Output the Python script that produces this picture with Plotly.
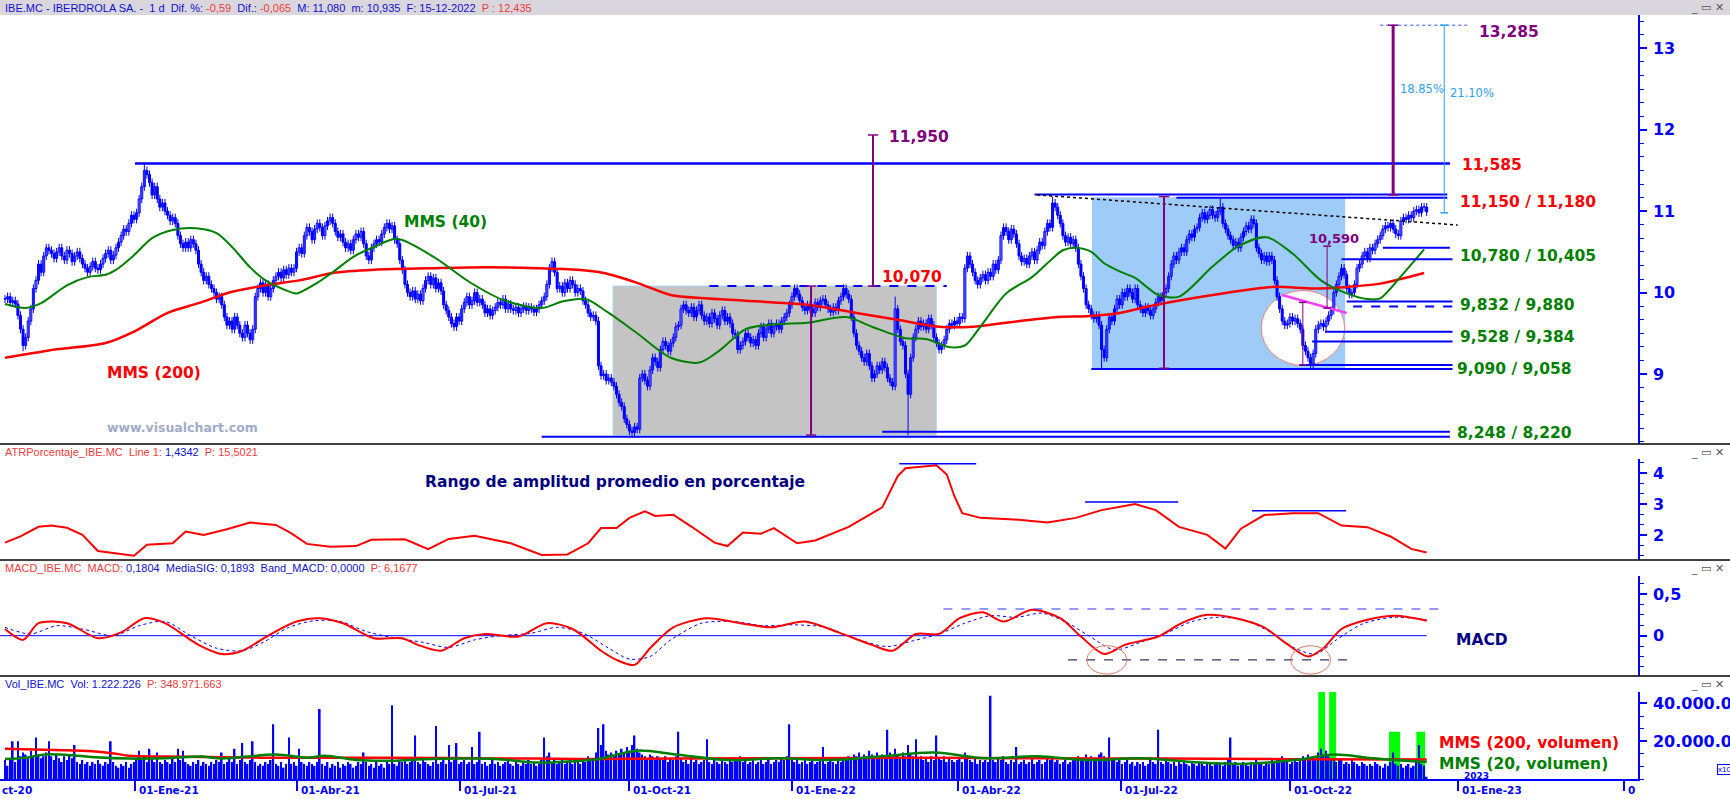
import plotly.graph_objects as go

W, H = 1730, 799

# ---------------- price data (daily closes) ----------------
close_a = [
    9.92, 9.95, 9.88, 9.90, 9.86, 9.72, 9.55, 9.35, 9.45, 9.65,
    9.80, 10.05, 10.15, 10.35, 10.25, 10.45, 10.55, 10.52,
    10.48, 10.42, 10.50, 10.55, 10.45, 10.40, 10.52, 10.48, 10.38, 10.45, 10.50, 10.42,
    10.35, 10.30, 10.25, 10.32, 10.38, 10.30, 10.28, 10.35,
    10.42, 10.48, 10.52, 10.40, 10.46, 10.55,
    10.62, 10.70, 10.78, 10.75, 10.85, 10.95, 10.90, 10.98,
    11.15, 11.30, 11.50, 11.45, 11.35, 11.20, 11.30,
    11.15, 11.05, 11.10, 11.00, 10.95, 10.88, 10.92, 10.85,
    10.70, 10.60, 10.55, 10.62, 10.55, 10.65, 10.60, 10.52,
    10.35, 10.25, 10.15, 10.20, 10.10, 10.05,
    10.00, 9.92, 9.95, 9.85, 9.70, 9.60, 9.65, 9.55,
    9.70, 9.60, 9.50, 9.45, 9.60, 9.50, 9.42, 9.55, 9.95,
    10.05, 10.12, 10.00, 10.10, 9.95, 10.05, 10.15,
    10.20, 10.25, 10.18, 10.28, 10.22, 10.30, 10.25, 10.30,
    10.50, 10.55, 10.48,
    10.70, 10.80, 10.75, 10.65, 10.78, 10.85, 10.80, 10.70, 10.82, 10.88, 10.92, 10.85,
    10.75, 10.68, 10.72, 10.62, 10.55, 10.60, 10.52, 10.65,
    10.72, 10.68, 10.75, 10.60, 10.45, 10.40,
    10.55, 10.60, 10.65, 10.62, 10.72, 10.80, 10.85, 10.78, 10.82,
    10.65, 10.60, 10.40, 10.28,
    10.10, 10.00, 9.95, 10.02, 9.92, 9.98, 9.90, 10.05,
    10.15, 10.20, 10.10, 10.18, 10.05, 10.12, 10.02,
    9.85, 9.78, 9.70, 9.62, 9.58, 9.70, 9.65,
    9.80, 9.88, 9.95, 9.85, 9.90, 10.00, 9.88, 9.92, 9.85,
]
close_b = [
    9.75, 9.80, 9.72, 9.78, 9.82, 9.88, 9.85, 9.92, 9.80, 9.86,
    9.80, 9.78, 9.82, 9.75, 9.80, 9.83, 9.78, 9.82, 9.80, 9.76, 9.80, 9.85,
    9.90, 9.95, 10.10, 10.30, 10.38, 10.25, 10.05, 10.08, 10.00,
    10.12, 10.05, 10.15, 10.10, 10.00, 10.05, 10.02,
    9.90, 9.85, 9.75, 9.70, 9.72, 9.65, 9.10,
    8.98, 9.00, 8.92, 8.95, 8.90, 8.85, 8.75, 8.65, 8.60,
    8.45, 8.38, 8.30, 8.28, 8.35, 8.32, 8.95, 9.00,
    8.92, 8.85, 9.05, 9.20, 9.15, 9.08, 9.30, 9.40,
    9.35, 9.28, 9.38, 9.45, 9.58, 9.60, 9.80, 9.85, 9.78,
    9.75, 9.82, 9.70, 9.78, 9.85, 9.72,
    9.65, 9.70, 9.62, 9.75, 9.68, 9.60, 9.72,
    9.78, 9.65, 9.70, 9.62, 9.50, 9.48, 9.30, 9.35, 9.40,
    9.50, 9.45, 9.38, 9.42, 9.35,
    9.50, 9.58, 9.45, 9.55, 9.62, 9.50, 9.58,
    9.62, 9.55, 9.65, 9.70, 9.75, 9.85, 9.95, 10.05, 9.98, 9.90,
    9.82, 9.78, 9.85, 9.80, 9.75, 9.88, 9.82, 9.90,
    9.92, 9.85, 9.80, 9.76, 9.82, 9.78, 9.90,
    9.95, 10.05, 9.98, 9.92, 9.70, 9.50, 9.35, 9.28,
    9.20, 9.15, 9.25, 9.10, 8.95, 9.00,
    9.10, 9.05, 9.15, 9.08, 8.95, 8.90, 8.85, 9.80,
    9.55, 9.40, 9.35, 9.00, 8.75, 9.20, 9.45, 9.55,
    9.65, 9.58, 9.62, 9.55, 9.68, 9.60,
    9.45, 9.38, 9.30, 9.35, 9.42, 9.55, 9.62, 9.60,
]
close_c = [
    9.65, 9.62, 9.70, 9.68, 10.30, 10.45, 10.35, 10.25,
    10.15, 10.10, 10.18, 10.22, 10.15, 10.25, 10.20,
    10.35, 10.28, 10.40, 10.70, 10.80, 10.75, 10.65, 10.78, 10.72, 10.60,
    10.45, 10.38, 10.42, 10.35, 10.45, 10.50, 10.40, 10.52,
    10.62, 10.58, 10.75, 10.85, 10.80, 11.10, 11.05, 10.95, 10.85,
    10.70, 10.62, 10.68, 10.60, 10.65, 10.55,
    10.35, 10.20, 10.05, 9.85, 9.80, 9.72, 9.68, 9.72, 9.60,
    9.30, 9.20, 9.55, 9.70, 9.65,
    9.80, 9.92, 9.85, 10.00, 9.95, 10.05, 10.00, 9.92, 10.05,
    9.85, 9.80, 9.75, 9.82, 9.78, 9.72, 9.80, 9.88,
    9.95, 9.90, 10.00, 10.05, 10.20, 10.35, 10.45, 10.40, 10.50,
    10.55, 10.50, 10.65, 10.72, 10.68, 10.78, 10.80,
    10.92, 10.98, 10.90, 10.95, 11.02, 10.95, 10.92, 11.00, 11.05,
    10.85, 10.78, 10.70, 10.65, 10.58, 10.62, 10.55, 10.68,
    10.75, 10.82, 10.78, 10.90, 10.85, 10.55, 10.48, 10.40, 10.45,
    10.38, 10.45, 10.40, 10.15, 9.95, 9.80, 9.65, 9.60,
    9.62, 9.70, 9.65, 9.68, 9.62, 9.55, 9.35, 9.28,
    9.20, 9.12, 9.25, 9.55, 9.60, 9.62, 9.58, 9.65, 9.72, 9.78,
    10.00, 10.10, 10.20, 10.30, 10.22, 10.05, 9.98, 10.00, 10.10,
    10.30, 10.35, 10.45, 10.50, 10.42, 10.55, 10.52,
    10.60, 10.65, 10.70, 10.78, 10.82, 10.80, 10.85, 10.78, 10.72, 10.70,
    10.88, 10.92, 10.90, 10.95, 10.92, 11.00, 11.02, 10.98, 11.05, 11.05, 10.99,
]
hi_override_idx = [54, 212, 345, 406, 471, 549]
hi_override_val = [11.585, 10.42, 9.95, 11.18, 11.15, 11.10]
lo_override_idx = [7, 96, 230, 243, 350, 425, 506]
lo_override_val = [9.28, 9.38, 9.05, 8.22, 8.248, 9.058, 9.09]

# moving averages of price
mms200_idx = [0, 17, 39, 50, 63, 75, 88, 101, 114, 127, 143, 167, 187, 206, 222, 232, 245, 258, 271,
              287, 311, 330, 347, 362, 375, 388, 408, 419, 432, 443, 468, 491, 507, 520, 533, 550]
mms200_val = [9.20, 9.29, 9.38, 9.52, 9.75, 9.87, 10.01, 10.09, 10.15, 10.24, 10.28, 10.30, 10.31, 10.30,
              10.28, 10.24, 10.12, 9.97, 9.93, 9.90, 9.85, 9.75, 9.66, 9.58, 9.58, 9.63, 9.70, 9.71, 9.75,
              9.83, 9.97, 10.07, 10.05, 10.07, 10.11, 10.24]
mms40_idx = [0, 8, 14, 24, 32, 39, 43, 50, 57, 65, 74, 82, 88, 95, 101, 108, 113, 121, 127, 135, 143, 152,
             167, 180, 193, 208, 216, 225, 234, 245, 258, 269, 277, 287, 298, 311, 326, 336, 349, 357, 366,
             372, 378, 388, 398, 406, 410, 415, 421, 426, 432, 438, 447, 455, 468, 478, 489, 499, 510, 520,
             528, 533, 541, 550]
mms40_val = [9.86, 9.81, 9.87, 10.09, 10.19, 10.22, 10.28, 10.46, 10.67, 10.77, 10.79, 10.73, 10.56, 10.31,
             10.15, 10.04, 9.99, 10.12, 10.25, 10.44, 10.56, 10.66, 10.42, 10.13, 9.91, 9.81, 9.89, 9.92,
             9.75, 9.50, 9.20, 9.14, 9.29, 9.55, 9.61, 9.63, 9.70, 9.58, 9.44, 9.43, 9.33, 9.35, 9.58, 9.99,
             10.19, 10.42, 10.52, 10.55, 10.50, 10.36, 10.26, 10.18, 9.97, 9.95, 10.32, 10.57, 10.68, 10.48,
             10.15, 9.99, 9.92, 9.93, 10.20, 10.53]

# ATR %
atr_idx = [0, 6, 13, 18, 24, 30, 36, 43, 50, 55, 65, 70, 77, 86, 95, 105, 111, 117, 126, 136, 142, 155,
           164, 172, 182, 188, 196, 208, 218, 226, 231, 237, 242, 248, 252, 259, 266, 275, 280, 286, 293,
           298, 307, 314, 327, 340, 346, 349, 361, 365, 368, 371, 378, 391, 404, 415, 425, 438, 446, 455,
           466, 473, 479, 488, 499, 509, 518, 528, 537, 545, 551]
atr_val = [1.75, 1.95, 2.26, 2.30, 2.23, 2.00, 1.48, 1.40, 1.33, 1.68, 1.73, 2.11, 2.00, 2.18, 2.40, 2.32,
           2.05, 1.71, 1.62, 1.64, 1.84, 1.86, 1.54, 1.87, 1.97, 1.87, 1.73, 1.35, 1.37, 1.73, 2.22, 2.22,
           2.55, 2.76, 2.61, 2.65, 2.27, 1.75, 1.64, 2.08, 2.04, 2.22, 1.73, 1.82, 2.26, 2.89, 3.90, 4.15,
           4.25, 3.95, 3.24, 2.70, 2.55, 2.50, 2.40, 2.55, 2.80, 3.00, 2.80, 2.26, 2.00, 1.56, 2.20, 2.64,
           2.70, 2.70, 2.30, 2.25, 1.95, 1.55, 1.43]

# MACD and signal
macd_idx = [0, 7, 13, 24, 36, 45, 54, 62, 75, 84, 92, 103, 113, 122, 131, 143, 154, 160, 169, 178, 186,
            199, 210, 220, 231, 237, 244, 250, 259, 272, 285, 297, 310, 323, 336, 344, 353, 362, 370, 379,
            387, 398, 409, 417, 426, 434, 447, 456, 466, 477, 488, 496, 505, 511, 518, 528, 539, 551]
macd_val = [0.08, -0.05, 0.15, 0.15, -0.03, 0.04, 0.21, 0.15, -0.11, -0.22, -0.18, 0.02, 0.17, 0.21, 0.15,
            -0.03, -0.03, -0.11, -0.18, -0.03, 0.02, -0.01, 0.15, 0.08, -0.18, -0.29, -0.35, -0.15, 0.10,
            0.21, 0.15, 0.10, 0.17, 0.04, -0.11, -0.18, 0.02, 0.02, 0.21, 0.28, 0.17, 0.31, 0.21, -0.01,
            -0.22, -0.11, -0.01, 0.15, 0.25, 0.21, 0.10, -0.08, -0.25, -0.15, 0.08, 0.19, 0.24, 0.18]
sig_idx = [0, 10, 20, 30, 42, 52, 62, 72, 82, 92, 100, 110, 120, 130, 140, 150, 162, 172, 182, 192, 204,
           214, 224, 234, 242, 250, 258, 270, 282, 294, 306, 318, 330, 342, 352, 362, 372, 382, 392, 402,
           412, 420, 430, 440, 450, 460, 470, 480, 490, 500, 508, 516, 526, 538, 551]
sig_val = [0.10, 0.02, 0.12, 0.08, 0.00, 0.12, 0.17, 0.00, -0.15, -0.18, -0.08, 0.10, 0.18, 0.17, 0.05,
           -0.02, -0.08, -0.14, -0.05, 0.00, 0.03, 0.10, 0.03, -0.15, -0.28, -0.25, -0.05, 0.15, 0.17, 0.12,
           0.13, 0.10, -0.04, -0.13, -0.06, 0.02, 0.15, 0.24, 0.22, 0.27, 0.15, 0.00, -0.17, -0.08, 0.03,
           0.17, 0.22, 0.19, 0.05, -0.15, -0.22, -0.05, 0.14, 0.22, 0.19]

# volume (millions)
volume_m = [
    10, 7, 11, 20, 9, 20, 12, 14, 13, 11, 15, 12, 22, 13, 11, 12, 14, 20, 12, 10,
    13, 11, 9, 12, 10, 13, 11, 18, 9, 8, 10, 8, 9, 7, 9, 8, 10, 8, 7, 9,
    8, 20, 9, 7, 6, 8, 7, 9, 6, 8, 9, 11, 15, 10, 12, 9, 16, 11, 9, 14,
    9, 8, 10, 9, 8, 11, 9, 16, 10, 15, 9, 8, 7, 9, 8, 10, 7, 9, 8, 7,
    9, 8, 10, 9, 14, 8, 9, 11, 9, 16, 8, 10, 19, 9, 8, 10, 20, 9, 7, 8,
    7, 9, 8, 10, 29, 8, 7, 9, 6, 8, 22, 8, 9, 7, 16, 9, 8, 7, 9, 8,
    7, 9, 37, 8, 7, 9, 6, 8, 7, 9, 6, 8, 7, 9, 8, 6, 7, 9, 8, 14,
    9, 7, 8, 6, 9, 7, 8, 6, 9, 8, 39, 8, 7, 10, 9, 11, 8, 9, 10, 23,
    9, 8, 10, 9, 8, 7, 9, 28, 8, 9, 10, 8, 18, 9, 10, 19, 8, 9, 10, 8,
    9, 17, 8, 9, 25, 8, 9, 7, 8, 10, 8, 9, 7, 8, 9, 10, 8, 7, 9, 8,
    7, 9, 8, 10, 8, 9, 7, 8, 10, 22, 12, 14, 9, 10, 8, 9, 11, 8, 9, 10,
    8, 9, 10, 8, 11, 9, 12, 10, 11, 14, 27, 18, 29, 15, 13, 14, 12, 15, 13, 16,
    14, 17, 15, 18, 23, 16, 14, 13, 12, 11, 13, 12, 10, 12, 11, 10, 12, 9, 11, 10,
    12, 25, 11, 9, 10, 8, 11, 9, 10, 8, 9, 10, 21, 9, 8, 10, 9, 8, 10, 9,
    8, 10, 9, 11, 10, 12, 9, 10, 8, 9, 10, 8, 9, 10, 8, 9, 11, 8, 9, 10,
    9, 11, 10, 12, 29, 10, 9, 11, 8, 9, 10, 8, 9, 10, 8, 9, 10, 17, 8, 9,
    10, 9, 8, 10, 9, 11, 10, 12, 11, 13, 12, 14, 11, 13, 12, 15, 13, 12, 14, 11,
    13, 12, 26, 14, 12, 16, 13, 11, 14, 12, 18, 13, 12, 21, 11, 12, 10, 11, 9, 12,
    10, 23, 11, 10, 12, 9, 11, 10, 9, 10, 11, 9, 14, 12, 10, 9, 11, 8, 10, 9,
    10, 9, 44, 10, 9, 11, 10, 12, 9, 8, 10, 9, 17, 8, 9, 10, 8, 9, 11, 8,
    9, 10, 8, 9, 11, 10, 12, 9, 10, 8, 9, 10, 8, 9, 10, 11, 12, 10, 11, 13,
    10, 12, 11, 10, 13, 14, 12, 11, 22, 10, 11, 9, 10, 8, 9, 10, 8, 9, 7, 9,
    8, 9, 7, 8, 10, 9, 8, 26, 9, 8, 10, 9, 8, 9, 7, 10, 8, 9, 8, 7,
    9, 8, 7, 9, 8, 7, 8, 9, 7, 8, 9, 8, 7, 9, 10, 22, 8, 9, 7, 8,
    9, 8, 7, 9, 8, 10, 9, 8, 7, 9, 8, 10, 9, 11, 10, 12, 9, 10, 8, 9,
    10, 9, 11, 12, 10, 13, 11, 12, 10, 14, 16, 13, 15, 12, 11, 10, 9, 11, 10, 8,
    9, 8, 10, 9, 8, 7, 9, 8, 7, 8, 7, 9, 8, 7, 6, 8, 7, 9, 14, 8,
    7, 8, 6, 7, 8, 6, 7, 9, 18, 8, 7, 1.2,
]
vmm200_idx = [0, 19, 34, 43, 48, 63, 99, 146, 206, 230, 260, 300, 350, 400, 450, 500, 551]
vmm200_val = [16.0, 15.4, 14.7, 13.4, 12.3, 11.9, 11.3, 11.3, 10.8, 10.6, 10.9, 11.0, 11.2, 11.0, 10.8, 10.5, 10.3]
vmm20_idx = [0, 8, 16, 28, 35, 48, 63, 76, 84, 105, 117, 124, 136, 150, 162, 176, 190, 206, 218, 230, 245,
             260, 280, 300, 320, 340, 360, 380, 400, 420, 440, 460, 480, 500, 515, 530, 551]
vmm20_val = [10.6, 11.3, 13.0, 12.3, 11.5, 10.8, 11.0, 11.9, 10.8, 13.0, 11.3, 12.3, 10.1, 9.7, 10.4, 10.8,
             10.6, 8.7, 9.2, 10.6, 15.0, 13.0, 10.0, 11.0, 10.0, 12.0, 14.0, 11.0, 12.0, 10.0, 11.0, 9.0,
             8.0, 10.0, 13.0, 11.0, 9.0]
vol_green_x0 = [509.0, 513.2, 536.4, 547.0]
vol_green_x1 = [511.6, 515.9, 540.7, 550.4]
vol_green_top = [46.0, 46.0, 25.0, 25.0]

tick_idx = [50.3, 113.3, 176.2, 242.0, 305.2, 369.5, 432.5, 497.9, 563.1, 627.5]
tick_text = ['01-Ene-21', '01-Abr-21', '01-Jul-21', '01-Oct-21', '01-Ene-22', '01-Abr-22',
             '01-Jul-22', '01-Oct-22', '01-Ene-23', '0']

# ---------------- build ----------------
closes = close_a + close_b + close_c
n = len(closes)
idx = list(range(n))
opens = [closes[0]] + closes[:-1]
highs = [max(o, c) + 0.05 for o, c in zip(opens, closes)]
lows = [min(o, c) - 0.05 for o, c in zip(opens, closes)]
for i, v in zip(hi_override_idx, hi_override_val):
    if i < n:
        highs[i] = max(highs[i], v)
for i, v in zip(lo_override_idx, lo_override_val):
    if i < n:
        lows[i] = min(lows[i], v)

BLUE = '#0000ff'
RED = '#ff0000'
GREEN = '#008000'
PURPLE = '#800080'
NAVY = '#000080'
BIG = 'DejaVu Sans'
SMALL = 'Liberation Sans'

XD = 1638 / W
XR = [-1.94, 632.9]


def PY(y):
    return 1 - y / H


fig = go.Figure()

# candle wicks
wx, wy = [], []
for i in idx:
    wx += [i, i, None]
    wy += [lows[i], highs[i], None]
fig.add_trace(go.Scatter(x=wx, y=wy, mode='lines', xaxis='x', yaxis='y',
                         line=dict(color=BLUE, width=1), hoverinfo='skip'))
# candle bodies (hollow = up, filled = down)
body_base = [min(o, c) for o, c in zip(opens, closes)]
body_h = [max(abs(c - o), 0.006) for o, c in zip(opens, closes)]
body_col = ['#ffffff' if c >= o else BLUE for o, c in zip(opens, closes)]
fig.add_trace(go.Bar(x=idx, y=body_h, base=body_base, width=0.78, xaxis='x', yaxis='y',
                     marker=dict(color=body_col, line=dict(color=BLUE, width=1)), hoverinfo='skip'))

fig.add_trace(go.Scatter(x=mms200_idx, y=mms200_val, mode='lines', xaxis='x', yaxis='y',
                         line=dict(color=RED, width=2.5, shape='spline', smoothing=0.8)))
fig.add_trace(go.Scatter(x=mms40_idx, y=mms40_val, mode='lines', xaxis='x', yaxis='y',
                         line=dict(color=GREEN, width=2, shape='spline', smoothing=0.8)))

fig.add_trace(go.Scatter(x=atr_idx, y=atr_val, mode='lines', xaxis='x2', yaxis='y2',
                         line=dict(color=RED, width=2)))

fig.add_trace(go.Scatter(x=sig_idx, y=sig_val, mode='lines', xaxis='x3', yaxis='y3',
                         line=dict(color=BLUE, width=1, dash='dot', shape='spline', smoothing=0.8)))
fig.add_trace(go.Scatter(x=macd_idx, y=macd_val, mode='lines', xaxis='x3', yaxis='y3',
                         line=dict(color=RED, width=2, shape='spline', smoothing=0.8)))

fig.add_trace(go.Bar(x=idx, y=[v * 1e6 for v in volume_m], width=0.62, xaxis='x4', yaxis='y4',
                     marker=dict(color=BLUE, line=dict(width=0))))
fig.add_trace(go.Scatter(x=vmm200_idx, y=[v * 1e6 for v in vmm200_val], mode='lines', xaxis='x4', yaxis='y4',
                         line=dict(color=RED, width=2.5, shape='spline')))
fig.add_trace(go.Scatter(x=vmm20_idx, y=[v * 1e6 for v in vmm20_val], mode='lines', xaxis='x4', yaxis='y4',
                         line=dict(color=GREEN, width=2.5, shape='spline')))

shapes = []


def seg(x0, y0, x1, y1, color, width=2, dash='solid', xr='x', yr='y', layer='above'):
    shapes.append(dict(type='line', xref=xr, yref=yr, x0=x0, y0=y0, x1=x1, y1=y1, layer=layer,
                       line=dict(color=color, width=width, dash=dash)))


def vmeasure(x, y0, y1, color, width=2, cap=2.0):
    seg(x, y0, x, y1, color, width)
    seg(x - cap, y0, x + cap, y0, color, 1.5)
    seg(x - cap, y1, x + cap, y1, color, 1.5)


# background regions (price)
shapes.append(dict(type='rect', xref='x', yref='y', x0=235.7, x1=360.9, y0=8.25, y1=10.08,
                   fillcolor='#c4c4c4', line=dict(color='#a8cdf0', width=1), layer='below'))
shapes.append(dict(type='rect', xref='x', yref='y', x0=421.3, x1=519.4, y0=9.05, y1=11.17,
                   fillcolor='#9ecbf7', line=dict(width=0), layer='below'))
shapes.append(dict(type='circle', xref='x', yref='y', x0=486.9, x1=519.2, y0=9.105, y1=10.025,
                   fillcolor='#ffffff', line=dict(color='#f08878', width=1), layer='below'))

# horizontal levels
seg(50.4, 11.585, 560, 11.585, BLUE, 2.5)
seg(399, 11.205, 559, 11.205, BLUE, 2)
seg(454, 11.165, 559, 11.165, BLUE, 2)
seg(534, 10.55, 560, 10.55, BLUE, 2)
seg(518, 10.41, 561, 10.41, BLUE, 2)
seg(520, 9.89, 561, 9.89, BLUE, 2)
seg(522.5, 9.83, 561, 9.83, BLUE, 2, 'dash')
seg(511.6, 9.52, 561, 9.52, BLUE, 2)
seg(506.6, 9.40, 561, 9.40, BLUE, 2)
seg(502, 9.11, 561, 9.11, BLUE, 2)
seg(421, 9.06, 561, 9.06, BLUE, 2)
seg(340, 8.29, 560, 8.29, BLUE, 2)
seg(208, 8.23, 560, 8.23, BLUE, 2)
seg(273, 10.08, 365, 10.08, BLUE, 2, 'dash')
seg(400, 11.20, 563, 10.83, '#000000', 1.5, 'dot')
seg(495, 9.97, 520, 9.75, '#ff40ff', 2.5)
seg(533, 13.285, 566.7, 13.285, '#3050ff', 1, 'dot')

# measuring arrows
vmeasure(336.4, 10.08, 11.936, PURPLE, 2)
vmeasure(312.4, 8.25, 10.08, PURPLE, 2)
vmeasure(449.2, 9.07, 11.18, PURPLE, 2)
vmeasure(538.0, 11.20, 13.285, PURPLE, 3)
vmeasure(512.4, 9.81, 10.57, PURPLE, 1, 1.5)
vmeasure(503.0, 9.11, 9.88, PURPLE, 1, 1.5)
vmeasure(557.8, 10.98, 13.285, '#30a0f0', 1, 1.5)

# ATR level segments
seg(346.6, 4.30, 376.4, 4.30, BLUE, 1.5, xr='x2', yr='y2')
seg(418.6, 3.06, 454.7, 3.06, BLUE, 1.5, xr='x2', yr='y2')
seg(483.3, 2.78, 519.8, 2.78, BLUE, 1.5, xr='x2', yr='y2')

# MACD guides
seg(-2, 0, 551, 0, BLUE, 1, xr='x3', yr='y3', layer='below')
seg(363.7, 0.32, 556, 0.32, '#3333ff', 1, 'dash', xr='x3', yr='y3')
seg(412, -0.29, 522, -0.29, '#000040', 1, 'dash', xr='x3', yr='y3')
for cx in (427, 506):
    shapes.append(dict(type='circle', xref='x3', yref='y3', x0=cx - 7.7, x1=cx + 7.7, y0=-0.46, y1=-0.12,
                       line=dict(color='#e07a5f', width=1), layer='above'))

# volume highlight columns
for a, b, t in zip(vol_green_x0, vol_green_x1, vol_green_top):
    shapes.append(dict(type='rect', xref='x4', yref='y4', x0=a, x1=b, y0=0, y1=t * 1e6,
                       fillcolor='#00ff00', line=dict(width=0), layer='below'))

# frame: title bar and panel separators
shapes.append(dict(type='rect', xref='paper', yref='paper', x0=0, x1=1, y0=PY(15), y1=1,
                   fillcolor='#d9d6dd', line=dict(width=0), layer='below'))
for yy in (444, 560, 676):
    shapes.append(dict(type='line', xref='paper', yref='paper', x0=0, x1=1, y0=PY(yy), y1=PY(yy),
                       line=dict(color='#000000', width=1.5), layer='above'))

ann = []


def label(x, y, text, color, size=15.5, xr='x', yr='y', family=BIG, bold=True, xanchor='left'):
    t = f'<b>{text}</b>' if bold else text
    ann.append(dict(x=x, y=y, xref=xr, yref=yr, text=t, showarrow=False, xanchor=xanchor, yanchor='middle',
                    font=dict(family=family, size=size, color=color)))


label(341.9, 11.91, '11,950', PURPLE)
label(339, 10.19, '10,070', RED)
label(570.5, 13.20, '13,285', PURPLE)
label(564, 11.57, '11,585', RED)
label(563, 11.11, '11,150 / 11,180', RED)
label(563, 10.45, '10,780 / 10,405', GREEN)
label(563, 9.85, '9,832 / 9,880', GREEN)
label(563, 9.45, '9,528 / 9,384', GREEN)
label(562, 9.06, '9,090 / 9,058', GREEN)
label(562, 8.28, '8,248 / 8,220', GREEN)
label(504.7, 10.66, '10,590', PURPLE, 13)
label(540, 12.50, '18.85%', '#30a0f0', 11.5, bold=False)
label(559.3, 12.45, '21.10%', '#30a0f0', 11.5, bold=False)
label(153.9, 10.87, 'MMS (40)', GREEN)
label(38.8, 9.01, 'MMS (200)', RED)
label(38.8, 8.34, 'www.visualchart.com', '#a3aac8', 12.5)

label(162, 3.71, 'Rango de amplitud promedio en porcentaje', NAVY, 15.5, xr='x2', yr='y2')
label(561.6, -0.05, 'MACD', NAVY, 15.5, xr='x3', yr='y3')
label(564.5, 1.6e6, '2023', BLUE, 9, xr='x4', yr='y4')
label(555, 19.1e6, 'MMS (200, volumen)', RED, 15.5, xr='x4', yr='y4')
label(555, 8.0e6, 'MMS (20, volumen)', GREEN, 15.5, xr='x4', yr='y4')

# x tick labels (left aligned beside the tick marks)
for ti, tt in zip(tick_idx, tick_text):
    ann.append(dict(x=ti, y=PY(790), xref='x4', yref='paper', text=f'<b>{tt}</b>', showarrow=False,
                    xanchor='left', yanchor='middle', xshift=2,
                    font=dict(family=BIG, size=10.5, color=BLUE)))
ann.append(dict(x=0, y=PY(790), xref='paper', yref='paper', text='<b>ct-20</b>', showarrow=False,
                xanchor='left', yanchor='middle', font=dict(family=BIG, size=10.5, color=BLUE)))
ann.append(dict(x=1717 / W, y=PY(769), xref='paper', yref='paper', text='x10', showarrow=False,
                xanchor='left', yanchor='middle', bordercolor=BLUE, borderwidth=1, borderpad=0,
                font=dict(family=SMALL, size=8, color=BLUE)))

R = '#f03c3c'
B = '#1010d0'


def hdr(y, html):
    ann.append(dict(x=3 / W, y=PY(y), xref='paper', yref='paper', text=html, showarrow=False,
                    xanchor='left', yanchor='middle', font=dict(family=SMALL, size=11, color=B)))
    ann.append(dict(x=1726 / W, y=PY(y), xref='paper', yref='paper', text='_ ▭ ✕', showarrow=False,
                    xanchor='right', yanchor='middle', font=dict(family=BIG, size=11, color='#555555')))


hdr(7.5, f'IBE.MC - IBERDROLA SA. -&nbsp; 1 d&nbsp; Dif. %: <span style="color:{R}">-0,59</span>&nbsp; '
         f'Dif.: <span style="color:{R}">-0,065</span>&nbsp; M: 11,080&nbsp; m: 10,935&nbsp; F: 15-12-2022&nbsp; '
         f'<span style="color:{R}">P : 12,435</span>')
hdr(452, f'<span style="color:{R}">ATRPorcentaje_IBE.MC&nbsp; Line 1: </span>1,4342'
         f'<span style="color:{R}">&nbsp; P: 15,5021</span>')
hdr(568, f'<span style="color:{R}">MACD_IBE.MC&nbsp; MACD: </span>0,1804&nbsp; MediaSIG: 0,1893&nbsp; '
         f'Band_MACD: 0,0000<span style="color:{R}">&nbsp; P: 6,1677</span>')
hdr(684, f'Vol_IBE.MC&nbsp; Vol: 1.222.226<span style="color:{R}">&nbsp; P: 348.971.663</span>')

xcommon = dict(domain=[0, XD], range=XR, showgrid=False, zeroline=False, showticklabels=False,
               showline=False, ticks='', fixedrange=True, automargin=False)
tickfont = dict(family=BIG, size=16, color=BLUE, weight='bold')


def yax(dom, rng, vals, texts, anchor, minor_dtick, minor_t0):
    return dict(domain=dom, range=rng, side='right', anchor=anchor, showgrid=False, zeroline=False,
                tickmode='array', tickvals=vals, ticktext=texts, ticks='outside', ticklen=7, tickwidth=1.5,
                tickcolor=BLUE, showline=True, linecolor=BLUE, linewidth=1.5, tickfont=tickfont,
                ticklabelstandoff=3, fixedrange=True, automargin=False,
                minor=dict(ticks='outside', ticklen=4, tickwidth=1, tickcolor=BLUE, dtick=minor_dtick,
                           tick0=minor_t0, showgrid=False))


fig.update_layout(
    width=W, height=H, margin=dict(l=0, r=0, t=0, b=0, autoexpand=False),
    paper_bgcolor='#ffffff', plot_bgcolor='rgba(0,0,0,0)',
    showlegend=False, hovermode=False, barmode='overlay',
    xaxis=dict(**xcommon, anchor='y', rangeslider=dict(visible=False)),
    xaxis2=dict(**xcommon, anchor='y2', matches='x'),
    xaxis3=dict(**xcommon, anchor='y3', matches='x'),
    xaxis4=dict(domain=[0, XD], range=XR, showgrid=False, zeroline=False, showticklabels=False,
                anchor='y4', matches='x', tickmode='array', tickvals=tick_idx, ticks='outside',
                ticklen=10, tickwidth=1.5, tickcolor=BLUE, showline=True, linecolor=BLUE, linewidth=2,
                fixedrange=True, automargin=False),
    yaxis=yax([PY(444), PY(15)], [8.14, 13.41], [9, 10, 11, 12, 13], ['9', '10', '11', '12', '13'],
              'x', 1 / 6, 9),
    yaxis2=yax([PY(560), PY(459)], [1.19, 4.45], [2, 3, 4], ['2', '3', '4'], 'x2', 1 / 3, 2),
    yaxis3=yax([PY(676), PY(575.7)], [-0.483, 0.719], [0, 0.5], ['0', '0,5'], 'x3', 0.125, 0),
    yaxis4=yax([PY(779), PY(691.7)], [0, 46.2e6], [20e6, 40e6], ['20.000.000', '40.000.000'], 'x4',
               20e6 / 3, 0),
    shapes=shapes, annotations=ann,
)

fig.write_html('out.html')
